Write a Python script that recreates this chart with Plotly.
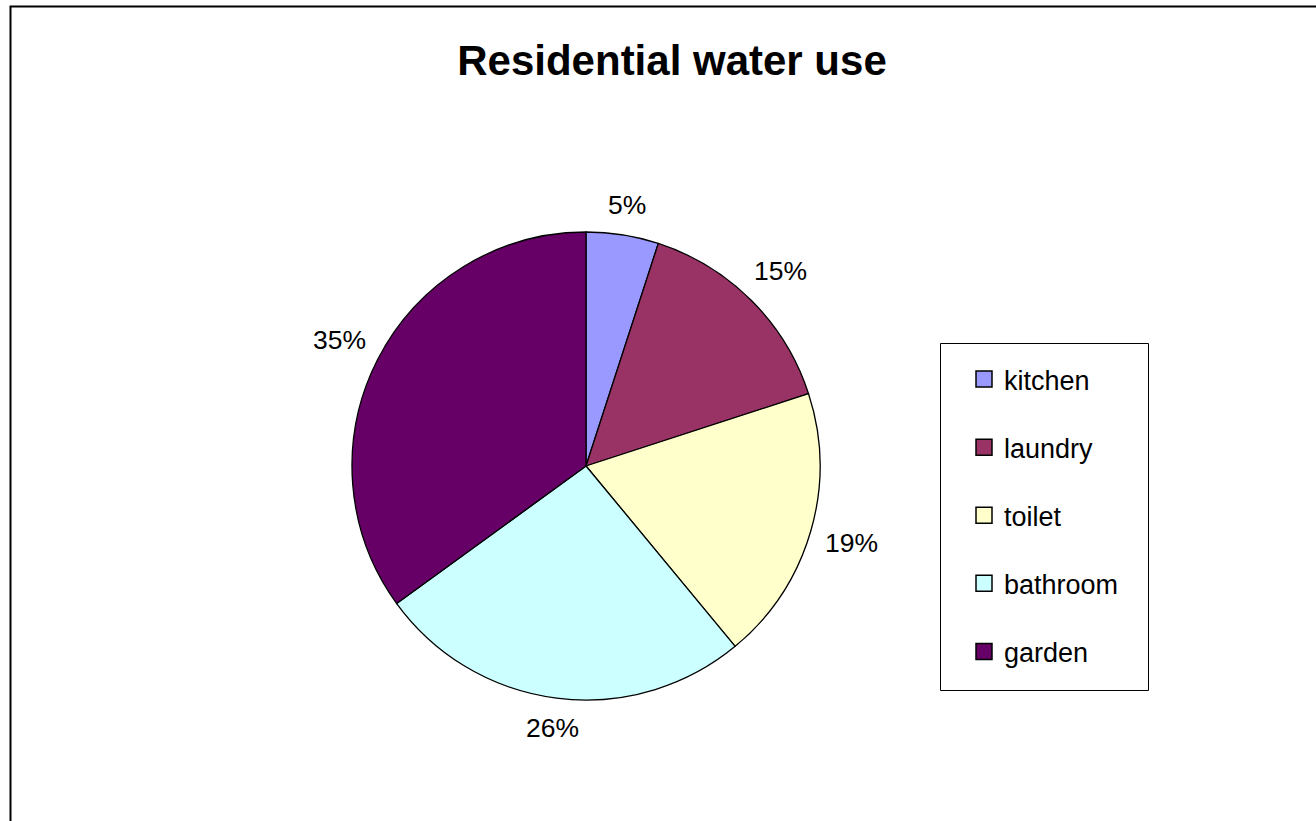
import math
import plotly.graph_objects as go

W, H = 1316, 821

categories = ["kitchen", "laundry", "toilet", "bathroom", "garden"]
values = [5, 15, 19, 26, 35]
colors = ["#9999FF", "#993366", "#FFFFCC", "#CCFFFF", "#660066"]
title_text = "Residential water use"

FONT = "Arial, Liberation Sans, sans-serif"
fig = go.Figure()

# pie geometry (pixels)
cx, cy, r = 586, 466, 234
fig.add_trace(go.Pie(
    labels=categories,
    values=values,
    sort=False,
    direction="clockwise",
    rotation=0,
    marker=dict(colors=colors, line=dict(color="black", width=1.3)),
    textinfo="none",
    domain=dict(x=[(cx - r) / W, (cx + r) / W], y=[1 - (cy + r) / H, 1 - (cy - r) / H]),
    showlegend=False,
    hoverinfo="label+percent",
))

# percent labels placed outside the slices, along each slice's mid-angle
total = sum(values)
annotations = []
cum = 0.0
lab_fs = 26.5
for v in values:
    frac = v / total
    mid = (cum + frac / 2) * 2 * math.pi
    cum += frac
    s, c = math.sin(mid), -math.cos(mid)
    text = f"{round(frac * 100)}%"
    half_w = 0.556 * lab_fs * len(text) / 2 + 0.1 * lab_fs
    half_h = 0.46 * lab_fs
    dist = r + 15 + abs(s) * half_w + abs(c) * half_h
    px = cx + dist * s
    py = cy + dist * c
    annotations.append(dict(
        x=px / W, y=1 - py / H, xref="paper", yref="paper",
        text=text, showarrow=False, xanchor="center", yanchor="middle",
        font=dict(family=FONT, size=lab_fs, color="black"),
    ))

# legend entries
for c_, col in zip(categories, colors):
    fig.add_trace(go.Scatter(
        x=[None], y=[None], mode="markers", name=c_,
        legendgroup=c_,
        marker=dict(symbol="square", size=16, color=col, line=dict(color="black", width=1.5)),
    ))

fig.update_layout(
    width=W, height=H,
    margin=dict(l=0, r=0, t=0, b=0),
    paper_bgcolor="white", plot_bgcolor="white",
    xaxis=dict(visible=False), yaxis=dict(visible=False),
    title=dict(text="<b>" + title_text + "</b>", x=672 / W, xanchor="center",
               y=1 - 60 / H, yanchor="middle",
               font=dict(family=FONT, size=42, color="black")),
    legend=dict(
        x=964 / W, xanchor="left",
        y=1 - 355 / H, yanchor="top",
        font=dict(family=FONT, size=27, color="black"),
        tracegroupgap=30,
        bgcolor="rgba(0,0,0,0)",
        borderwidth=0,
        itemclick=False, itemdoubleclick=False,
    ),
    annotations=annotations,
    shapes=[
        dict(type="rect", xref="paper", yref="paper",
             x0=10.5 / W, x1=1.05, y0=-0.05, y1=1 - 6.5 / H,
             line=dict(color="black", width=2), fillcolor="rgba(0,0,0,0)", layer="above"),
        dict(type="rect", xref="paper", yref="paper",
             x0=940.5 / W, x1=1148.5 / W, y0=1 - 690.5 / H, y1=1 - 343.5 / H,
             line=dict(color="black", width=1), fillcolor="rgba(0,0,0,0)"),
    ],
)

fig.write_html("out.html")
